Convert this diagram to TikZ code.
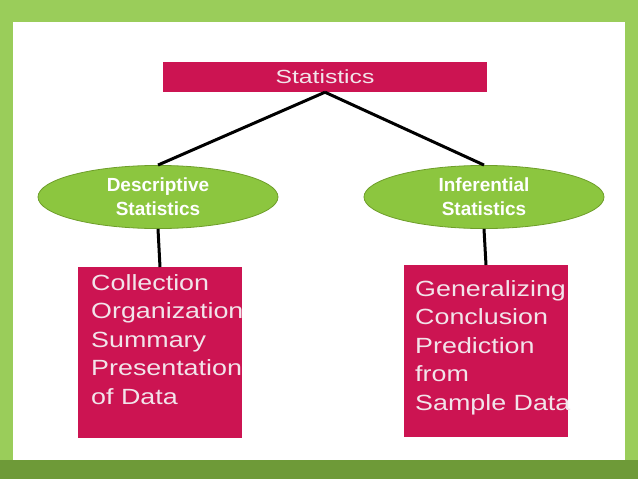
\documentclass[tikz,border=0pt]{standalone}
\usepackage{fontspec}
\setmainfont{Liberation Sans}
\usetikzlibrary{positioning}
\definecolor{crimson}{HTML}{CC1452}
\definecolor{leaf}{HTML}{8CC63F}
\definecolor{leafdark}{HTML}{6E9E2A}
\definecolor{frame}{HTML}{9ACD5A}
\definecolor{band}{HTML}{6E9A38}
\definecolor{paletext}{HTML}{F2E4EA}
\tikzset{
  topbox/.style={fill=crimson, minimum width=324pt, minimum height=30pt, inner sep=0pt},
  branch/.style={ellipse, fill=leaf, draw=leafdark, line width=0.8pt, minimum width=240pt, minimum height=58pt, align=center, text=white, font=\bfseries\fontsize{19}{24}\selectfont},
  itembox/.style={fill=crimson, minimum width=164pt, anchor=north, inner sep=0pt},
  link/.style={line width=3pt, black}
}
\usetikzlibrary{shapes.geometric}
\begin{document}
\begin{tikzpicture}[x=1pt,y=-1pt]
  \useasboundingbox (0,0) rectangle (638,479);
  \fill[frame] (0,0) rectangle (638,479);
  \fill[band] (0,460) rectangle (638,479);
  \fill[white] (13,22) rectangle (625,460);

  \node[topbox] (stat) at (325,77) {};
  \node[text=paletext, xscale=1.3, font=\fontsize{19}{22}\selectfont] at (stat) {Statistics};

  \node[branch] (desc) at (158,197) {Descriptive\\Statistics};
  \node[branch] (infer) at (484,197) {Inferential\\Statistics};

  \node[itembox, minimum height=171pt] (dbox) at (160,267) {};
  \node[itembox, minimum height=172pt] (ibox) at (486,265) {};

  \node[anchor=north west, align=left, text=paletext, xscale=1.22, inner sep=0pt,
        font=\fontsize{22}{28.5}\selectfont] at (91,274)
        {Collection\\Organization\\Summary\\Presentation\\of Data};
  \node[anchor=north west, align=left, text=paletext, xscale=1.22, inner sep=0pt,
        font=\fontsize{22}{28.5}\selectfont] at (415,280)
        {Generalizing\\Conclusion\\Prediction\\from\\Sample Data};

  \draw[link] (stat.south) -- (desc.north);
  \draw[link] (stat.south) -- (infer.north);
  \draw[link] (desc.south) -- (dbox.north);
  \draw[link] (infer.south) -- (ibox.north);
\end{tikzpicture}
\end{document}
